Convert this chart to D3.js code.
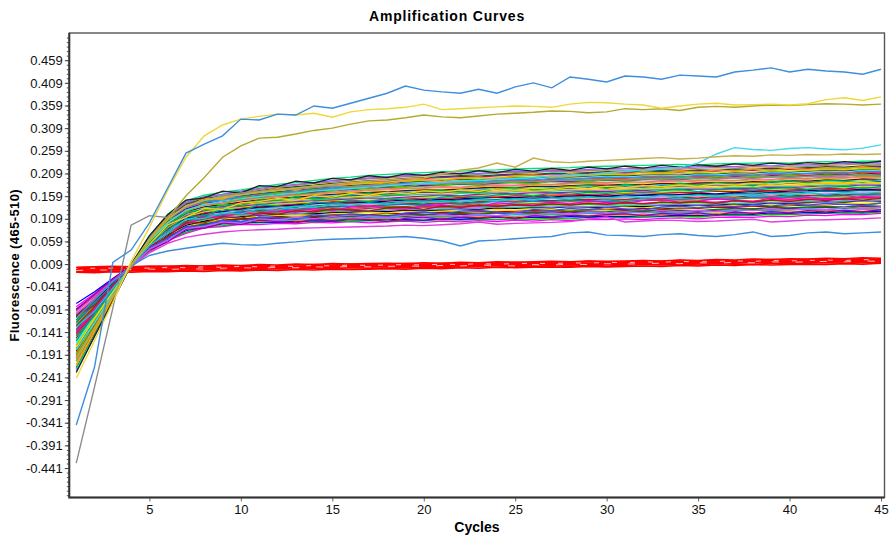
<!DOCTYPE html>
<html><head><meta charset="utf-8">
<script src="https://cdn.jsdelivr.net/npm/d3@7"></script>
<style>
html,body{margin:0;padding:0;background:#fff;}
svg{display:block;}
text{font-family:"Liberation Sans",Arial,sans-serif;}
</style></head><body>
<svg id="chart" width="894" height="536"></svg>
<script>
// ---------------- DATA ----------------
const cycles = [1,2,3,4,5,6,7,8,9,10,11,12,13,14,15,16,17,18,19,20,21,22,23,24,25,26,27,28,29,30,31,32,33,34,35,36,37,38,39,40,41,42,43,44,45];
const xTickValues = [5,10,15,20,25,30,35,40,45];
const yTickLabels = ["-0.441","-0.391","-0.341","-0.291","-0.241","-0.191","-0.141","-0.091","-0.041","0.009","0.059","0.109","0.159","0.209","0.259","0.309","0.359","0.409","0.459"];

// fluorescence values x1000, one entry per cycle (groups of 10 separated by |)
const redCurves = [
"1 2 2 1 3 4 3 5 4 5 | 6 5 7 8 7 9 8 9 10 9 | 11 10 12 11 13 12 14 12 15 13 | 14 16 15 17 16 18 16 17 19 18 | 19 20 19 21 20",
"-3 -1 -2 0 -1 1 0 2 1 3 | 2 4 3 5 4 6 5 5 7 6 | 8 7 8 9 8 10 9 11 10 12 | 11 13 12 12 14 13 15 14 15 16 | 15 17 16 18 17",
"-5 -4 -4 -3 -2 -3 -1 -2 0 1 | 0 2 1 3 2 4 3 4 5 4 | 6 5 7 6 5 8 7 9 8 10 | 9 10 11 10 12 11 13 12 14 13 | 14 15 14 16 15",
"-8 -7 -7 -6 -6 -4 -5 -3 -4 -2 | -3 -1 -2 0 -1 1 0 0 2 1 | 3 2 4 2 5 3 6 4 7 5 | 6 8 7 9 7 10 9 8 11 10 | 11 12 11 13 12",
"-9 -10 -8 -9 -7 -8 -6 -7 -5 -6 | -4 -5 -3 -4 -2 -3 -2 -1 -2 0 | -1 1 0 2 1 2 3 2 4 3 | 4 5 4 6 5 7 6 8 7 8 | 9 8 10 9 11",
"2 3 4 3 5 4 6 5 7 6 | 8 7 9 8 10 9 10 11 10 12 | 11 13 12 14 13 14 15 14 16 15 | 16 17 16 18 17 19 18 20 19 21 | 20 22 21 23 22",
"-4 -5 -3 -4 -2 -3 -1 -2 0 -1 | 1 0 2 1 3 2 4 3 4 5 | 4 6 5 8 6 7 8 7 10 8 | 9 10 9 11 10 12 11 13 12 13 | 14 13 15 14 16",
"-1 0 0 1 0 2 1 3 2 4 | 3 5 4 6 5 7 6 7 8 7 | 9 8 10 9 10 11 10 12 11 13 | 12 14 13 15 14 15 16 15 17 16 | 17 18 17 19 18"
];

const bandColors = ["#ff00ff","#00c000","#0000ff","#ff8000","#00c0c0","#800080","#008000","#c00000","#e8e800","#000000",
"#8080ff","#00ff00","#ff0080","#808000","#0080ff","#804000","#ff80ff","#008080","#000080","#ff0000",
"#80ff00","#c000c0","#40c080","#ffc000","#4040c0","#00ffff","#800000","#c0c000","#ff60a0","#20a020",
"#6000c0","#ff4000","#00a0ff","#404040","#a0e000","#e000a0","#006040","#c08040","#9060ff","#00e080",
"#ff00c0","#00b050","#3050ff","#ff9900","#009999","#a000a0","#60c000","#a02020","#ffd000","#202020","#00d0d0","#c060ff"];

const bandCurves = [
"-85 -56 -24 4 36 61 77 89 92 97 | 96 99 98 101 100 103 100 102 104 101 | 104 102 105 103 106 104 107 105 108 107 | 109 107 110 111 109 112 113 112 115 114 | 117 116 119 118 121",
"-95 -60 -27 3 37 63 79 91 94 99 | 100 101 103 102 104 103 105 104 106 105 | 107 106 108 107 109 108 110 109 112 111 | 113 112 114 115 113 116 117 116 119 118 | 120 121 122 121 124",
"-78 -52 -23 5 38 64 83 92 98 100 | 102 101 104 105 104 107 106 108 107 106 | 109 108 110 112 111 113 112 114 113 115 | 114 116 115 117 116 118 120 119 122 121 | 123 122 125 124 126",
"-100 -66 -30 2 38 66 85 93 100 102 | 104 106 105 107 108 107 110 109 112 111 | 112 114 113 115 114 116 115 117 116 118 | 117 119 118 120 119 121 123 122 125 124 | 126 128 127 130 129",
"-108 -70 -33 2 40 67 86 96 101 103 | 106 105 108 109 111 110 112 111 114 113 | 115 114 117 116 118 117 119 118 121 120 | 121 123 122 124 123 125 126 128 127 129 | 130 129 132 131 133",
"-92 -62 -28 5 41 69 88 97 102 107 | 108 110 109 112 113 115 114 116 115 117 | 119 118 120 122 121 120 123 122 124 121 | 124 126 125 127 126 128 129 131 130 132 | 133 134 133 136 135",
"-115 -74 -35 3 41 70 90 98 105 108 | 110 112 111 114 115 114 117 116 119 118 | 120 121 119 123 122 124 123 126 124 125 | 127 126 129 128 127 130 132 131 134 133 | 135 136 135 138 137",
"-104 -68 -31 5 42 71 90 102 107 109 | 112 114 116 115 118 119 118 121 120 122 | 124 123 125 124 126 127 126 129 128 130 | 129 132 131 133 132 135 134 137 136 138 | 139 140 142 141 143",
"-122 -79 -37 3 43 73 93 101 109 112 | 115 117 116 119 121 120 123 122 125 124 | 126 128 127 129 128 131 130 129 132 131 | 133 135 134 136 135 137 139 138 141 140 | 142 141 144 143 145",
"-108 -71 -33 5 44 74 95 104 111 114 | 117 119 121 120 123 124 126 125 128 127 | 129 131 130 133 132 134 133 136 135 134 | 137 136 139 138 140 139 142 141 144 143 | 145 147 146 149 148",
"-130 -85 -40 3 45 76 97 107 111 116 | 118 121 120 123 125 127 126 128 130 129 | 131 130 133 135 134 136 135 137 136 138 | 137 140 139 141 140 143 142 145 144 146 | 147 146 149 148 150",
"-118 -78 -36 5 46 77 99 107 115 118 | 121 123 125 124 127 129 128 131 132 134 | 133 135 137 136 138 137 140 139 141 140 | 142 141 144 143 145 144 147 146 149 148 | 150 152 151 154 153",
"-135 -88 -41 4 47 78 100 109 116 120 | 122 125 124 127 130 129 132 134 133 136 | 135 137 139 138 140 139 142 141 143 142 | 144 143 146 145 147 146 149 148 151 150 | 152 154 153 156 155",
"-125 -83 -39 6 48 80 102 111 118 122 | 125 127 129 131 133 132 135 137 136 139 | 138 140 142 141 144 143 145 147 146 148 | 147 150 149 151 150 153 152 155 154 156 | 155 158 157 160 159",
"-142 -93 -44 4 48 81 103 114 118 124 | 127 129 131 133 135 137 136 139 141 140 | 143 142 145 147 146 148 147 150 149 148 | 151 150 153 152 154 155 154 157 156 158 | 159 161 160 163 162",
"-128 -85 -40 6 49 83 104 116 122 126 | 129 131 134 133 137 139 138 141 143 142 | 145 144 147 149 148 150 149 152 151 153 | 152 155 154 156 155 158 157 160 159 161 | 160 163 162 165 164",
"-148 -97 -46 4 50 84 107 118 122 127 | 131 134 133 136 139 141 140 143 145 147 | 146 148 150 149 152 151 153 155 154 156 | 155 157 156 159 158 160 161 163 162 164 | 163 166 165 168 167",
"-137 -91 -43 6 51 86 109 118 126 130 | 133 136 138 137 141 143 145 144 147 149 | 148 151 153 152 155 154 156 158 157 159 | 158 161 160 162 163 162 165 164 167 166 | 168 170 169 172 171",
"-155 -102 -48 4 52 87 111 121 125 131 | 135 137 140 142 144 146 145 148 150 152 | 151 153 155 157 156 158 157 160 161 159 | 162 161 164 163 165 164 167 169 168 170 | 171 173 172 174 173",
"-145 -96 -46 6 53 89 113 122 130 133 | 137 140 142 145 147 146 149 151 153 155 | 154 156 158 157 160 159 162 161 164 163 | 165 167 166 168 167 170 169 172 171 173 | 174 176 175 178 177",
"-162 -107 -51 5 54 90 114 125 129 135 | 139 141 144 146 149 151 150 153 155 157 | 156 159 161 160 163 162 164 166 165 167 | 166 169 168 170 169 172 173 175 174 176 | 177 179 178 180 179",
"-150 -100 -48 7 55 92 116 127 133 137 | 141 144 147 149 151 153 155 154 157 159 | 161 160 163 165 164 167 166 168 170 169 | 172 171 174 173 175 174 177 176 179 178 | 180 182 181 184 183",
"-170 -112 -54 5 55 93 118 129 133 139 | 143 146 149 151 153 155 157 159 161 163 | 162 165 167 166 169 168 170 172 171 173 | 172 175 174 176 177 176 179 178 181 180 | 182 184 183 186 185",
"-157 -104 -50 7 56 95 120 131 137 141 | 145 148 151 154 156 158 160 162 164 166 | 165 168 170 169 172 171 173 175 174 176 | 175 178 177 179 180 179 182 181 184 183 | 185 187 186 189 188",
"-176 -116 -55 5 57 96 121 132 136 143 | 147 150 153 156 158 160 162 164 166 168 | 167 170 172 174 173 176 175 177 179 178 | 180 179 182 181 183 184 183 186 185 188 | 187 190 189 192 191",
"-164 -109 -52 7 58 98 123 134 139 145 | 149 152 155 158 161 163 165 167 169 171 | 170 173 175 177 176 179 178 180 182 181 | 183 182 185 184 186 187 186 189 188 191 | 190 193 192 195 194",
"-183 -121 -58 5 59 99 125 136 140 146 | 151 154 157 160 163 165 167 169 171 173 | 172 175 177 179 178 181 180 182 184 183 | 185 184 187 186 188 189 188 191 190 193 | 192 195 194 197 196",
"-170 -114 -54 7 60 100 127 138 144 149 | 153 157 160 163 166 168 171 173 175 176 | 178 177 180 182 181 184 183 186 188 187 | 189 188 191 190 192 193 192 195 194 197 | 196 199 198 201 200",
"-190 -126 -60 6 61 102 128 139 144 150 | 155 158 162 165 168 170 173 175 177 178 | 180 179 182 184 183 186 185 188 190 189 | 191 190 193 192 194 195 194 197 196 199 | 198 201 200 203 202",
"-178 -119 -57 8 62 103 130 142 148 152 | 157 161 164 167 171 173 176 178 180 181 | 183 185 184 187 189 188 191 190 192 194 | 193 195 196 195 198 197 200 199 202 201 | 203 205 204 207 206",
"-198 -131 -62 6 62 105 131 143 148 154 | 159 163 166 169 173 175 178 180 182 183 | 185 187 186 189 191 190 193 192 194 196 | 195 197 198 197 200 199 202 201 204 203 | 205 207 206 209 208",
"-186 -124 -59 8 63 106 134 145 152 156 | 161 165 168 172 175 178 180 183 185 186 | 188 190 189 192 194 193 196 195 197 199 | 198 200 201 200 203 202 205 204 207 206 | 208 210 209 212 211",
"-205 -135 -65 6 64 107 135 147 151 158 | 163 167 170 174 177 180 182 185 187 188 | 190 192 191 194 196 195 198 197 199 201 | 200 202 203 202 205 204 207 206 209 208 | 210 212 211 214 213",
"-192 -128 -61 8 65 109 137 149 155 160 | 165 169 173 176 180 183 185 188 190 192 | 194 196 195 198 200 199 202 201 203 205 | 204 206 207 206 209 208 211 210 213 212 | 214 216 215 218 217",
"-212 -140 -67 6 66 110 138 150 155 162 | 167 171 175 178 182 185 187 190 192 194 | 196 198 197 200 202 201 204 203 205 207 | 206 208 209 208 211 210 213 212 215 214 | 216 218 217 220 219",
"-199 -133 -63 8 67 112 141 152 159 164 | 169 174 178 181 185 188 191 193 196 198 | 200 202 201 204 206 205 208 207 209 211 | 210 212 213 212 215 214 217 216 219 218 | 220 222 221 224 223",
"-220 -146 -69 7 68 113 142 154 159 165 | 171 176 180 183 187 190 193 195 198 200 | 202 204 203 206 208 207 210 209 211 213 | 212 214 215 214 217 216 219 218 221 220 | 222 224 223 226 225",
"-205 -137 -66 9 69 115 144 156 163 168 | 174 179 183 187 190 194 197 199 202 204 | 206 208 207 210 212 211 214 213 215 217 | 216 218 219 218 221 222 221 224 223 226 | 225 227 228 230 229",
"-226 -151 -72 7 70 117 146 158 163 170 | 176 181 185 189 193 196 199 202 204 206 | 208 210 209 212 214 213 216 215 218 220 | 219 221 222 221 224 225 224 227 226 229 | 228 230 231 233 232",
"-222 -149 -71 9 71 119 149 161 168 173 | 179 185 189 194 198 201 205 207 209 211 | 213 214 216 217 219 220 221 222 224 225 | 226 227 228 229 228 230 231 232 233 232 | 234 235 234 236 237",
"-140 -90 -42 5 46 80 98 112 114 122 | 119 128 126 131 127 135 137 132 130 138 | 140 134 136 144 141 139 146 142 148 145 | 143 149 151 146 148 153 150 147 155 152 | 156 151 154 158 157",
"-150 -105 -50 6 58 92 124 128 141 138 | 151 149 158 153 155 162 166 160 163 170 | 172 168 166 176 178 173 175 180 183 177 | 185 181 179 187 184 189 186 182 191 193 | 188 194 192 190 196",
"-120 -78 -36 3 44 66 92 94 106 102 | 113 111 108 118 115 120 117 113 122 124 | 119 126 128 123 121 130 127 132 129 134 | 131 128 135 137 133 138 136 140 137 142 | 139 143 141 138 144",
"-215 -140 -68 6 64 114 134 154 152 166 | 168 176 172 182 180 186 190 185 194 196 | 192 199 201 197 204 206 200 209 205 211 | 207 213 210 215 212 217 214 219 216 221 | 218 222 220 224 219",
"-160 -100 -47 5 55 84 114 116 130 126 | 140 137 134 146 143 150 147 154 151 149 | 157 160 156 162 164 159 166 163 168 165 | 170 167 171 174 169 173 175 172 176 178 | 174 178 181 176 180",
"-90 -58 -24 4 40 58 86 88 100 96 | 106 103 100 108 105 109 107 103 110 112 | 108 113 111 114 109 116 113 117 115 118 | 120 116 121 119 122 117 124 121 125 122 | 127 124 128 125 129",
"-190 -122 -58 7 58 106 124 143 140 155 | 158 166 163 173 170 178 175 182 179 186 | 183 188 185 191 189 186 193 195 190 197 | 194 198 196 200 197 202 199 203 201 205 | 202 206 204 208 204",
"-105 -82 -38 5 48 70 100 100 114 110 | 122 119 127 124 131 128 126 133 135 130 | 137 134 139 136 140 138 142 139 143 141 | 145 142 146 144 147 143 149 146 150 147 | 152 149 153 150 154",
"-175 -110 -52 6 52 96 112 132 130 144 | 147 154 150 160 157 165 161 168 164 171 | 168 173 170 175 172 177 174 179 176 181 | 178 182 180 184 181 186 183 187 185 189 | 186 190 188 192 188",
"-230 -150 -72 8 72 118 150 155 170 166 | 182 180 192 188 198 195 204 200 208 205 | 212 208 215 211 218 214 220 216 223 219 | 225 221 227 223 228 225 230 227 232 229 | 233 230 235 232 236",
"-130 -95 -44 4 50 78 108 110 122 120 | 131 128 137 134 141 138 144 141 147 144 | 149 146 151 148 153 150 155 152 157 154 | 159 155 160 157 162 158 163 160 165 161 | 166 163 167 164 168",
"-100 -68 -30 3 42 62 88 92 102 99 | 109 106 112 109 114 111 115 112 117 114 | 118 115 119 116 121 118 122 119 124 121 | 125 122 127 124 128 125 130 127 131 128 | 132 129 134 131 135"
];

// distinct outlier curves
const blueHigh   = "-346 -218 13 40 100 177 254 274 292 329 | 327 340 338 358 353 364 375 386 402 393 | 389 386 395 386 400 409 398 422 417 411 | 424 422 417 426 424 422 433 437 442 433 | 439 435 433 428 439";
const yellowHigh = "-243 -160 -75 15 90 172 245 292 316 329 | 335 340 338 342 333 345 350 352 355 362 | 350 352 354 356 358 357 355 362 366 365 | 362 360 353 358 362 364 360 361 362 360 | 363 372 376 370 378";
const oliveHigh  = "-195 -130 -60 5 60 110 160 200 245 270 | 287 289 296 304 309 318 325 327 332 338 | 334 332 336 340 342 344 347 346 343 345 | 352 350 352 348 355 357 355 358 360 359 | 361 363 362 360 362";
const grayHump   = "-430 -262 -88 95 116 112 135 150 160 166 | 170 174 176 178 181 180 183 185 184 187 | 186 189 188 190 192 191 193 195 194 196 | 195 197 198 197 199 198 200 199 202 201 | 203 202 204 205 204";
const cyanRise   = "-180 -120 -57 7 60 100 128 140 148 153 | 158 162 166 170 173 176 179 182 185 187 | 189 192 194 196 198 200 203 205 207 210 | 214 216 219 222 232 252 266 262 260 264 | 266 263 261 265 272";
const oliveBand  = "-200 -133 -63 7 64 108 137 150 157 162 | 168 172 177 181 185 189 192 194 197 199 | 208 216 221 232 223 243 235 233 236 238 | 240 242 244 241 243 246 248 247 250 249 | 251 250 252 251 252";
const magentaLow = "-95 -62 -28 4 34 55 68 75 80 83 | 85 86 88 89 90 91 92 93 95 94 | 96 98 102 97 99 100 101 103 108 113 | 102 104 106 105 103 104 106 108 102 104 | 106 107 108 109 111";
const blueLow    = "-110 -70 -30 5 28 38 44 50 55 52 | 51 55 58 62 64 65 66 68 70 66 | 60 49 60 62 65 68 70 78 80 73 | 72 70 74 76 72 70 74 80 70 72 | 78 80 76 78 80";

const outliers = [
  {values: grayHump,   color: "#8c8c8c"},
  {values: magentaLow, color: "#e040e0"},
  {values: blueLow,    color: "#3d8ede"},
  {values: cyanRise,   color: "#40d8ec"},
  {values: oliveBand,  color: "#c4b048"},
  {values: oliveHigh,  color: "#b4aa30"},
  {values: yellowHigh, color: "#f0d838"},
  {values: blueHigh,   color: "#3d8ede"}
];

// ---------------- CHART ----------------
const W = 894, H = 536;
const frame = {left: 69.3, right: 884.5, top: 33, bottom: 497.5};
const x = d3.scaleLinear().domain([0.62, 45.19]).range([frame.left, frame.right]);
const y = d3.scaleLinear().domain([-0.506, 0.519]).range([frame.bottom, frame.top]);

const svg = d3.select("#chart");
svg.append("rect").attr("width", W).attr("height", H).attr("fill", "#fff");

const parse = s => s.split(/[\s|]+/).filter(t => t.length).map(t => +t / 1000).slice(0, cycles.length);
const line = d3.line().defined(d => d != null && !isNaN(d)).x((d, i) => x(cycles[i])).y(d => y(d));

svg.append("defs").append("clipPath").attr("id", "clip")
  .append("rect").attr("x", frame.left).attr("y", frame.top)
  .attr("width", frame.right - frame.left).attr("height", frame.bottom - frame.top);

const plot = svg.append("g").attr("clip-path", "url(#clip)");

const redData = redCurves.map(parse);
plot.selectAll("path.red").data(redData).join("path")
  .attr("class", "red").attr("d", line).attr("fill", "none")
  .attr("stroke", "#ff0000").attr("stroke-width", 1.6);
// light highlight dashes inside the red band (as in the instrument's rendering)
plot.selectAll("path.redhl").data([redData[2], redData[7]]).join("path")
  .attr("class", "redhl").attr("d", line).attr("fill", "none")
  .attr("stroke", "#ffd6d6").attr("stroke-width", 0.9)
  .attr("stroke-dasharray", (d, i) => i ? "5 13" : "7 17")
  .attr("stroke-dashoffset", (d, i) => i ? 4 : 0);

plot.selectAll("path.band").data(bandCurves.map(parse)).join("path")
  .attr("class", "band").attr("d", line).attr("fill", "none")
  .attr("stroke", (d, i) => bandColors[i % bandColors.length]).attr("stroke-width", 1.3);

plot.selectAll("path.out").data(outliers).join("path")
  .attr("class", "out").attr("d", d => line(parse(d.values))).attr("fill", "none")
  .attr("stroke", d => d.color).attr("stroke-width", 1.4);

// minor y ticks
const yMinor = d3.range(-50, 52).map(k => -0.001 + k * 0.01).filter(v => y(v) <= frame.bottom && y(v) >= frame.top);
svg.append("g").attr("transform", `translate(${frame.left},0)`)
  .call(d3.axisLeft(y).tickValues(yMinor).tickFormat("").tickSize(2.5))
  .call(g => g.select(".domain").remove())
  .call(g => g.selectAll("line").attr("stroke", "#555"));

// major y ticks
const yTickValues = yTickLabels.map(Number);
svg.append("g").attr("transform", `translate(${frame.left},0)`)
  .call(d3.axisLeft(y).tickValues(yTickValues).tickFormat((d, i) => yTickLabels[i]).tickSize(4.5).tickPadding(2))
  .call(g => g.select(".domain").remove())
  .call(g => g.selectAll("line").attr("stroke", "#444"))
  .call(g => g.selectAll("text").attr("font-size", 13).attr("fill", "#111")
    .attr("font-family", "'Liberation Sans', Arial, sans-serif"));

// x ticks
svg.append("g").attr("transform", `translate(0,${frame.bottom})`)
  .call(d3.axisBottom(x).tickValues(xTickValues).tickFormat(d3.format("d")).tickSize(4).tickPadding(3))
  .call(g => g.select(".domain").remove())
  .call(g => g.selectAll("line").attr("stroke", "#666"))
  .call(g => g.selectAll("text").attr("font-size", 13).attr("fill", "#111")
    .attr("font-family", "'Liberation Sans', Arial, sans-serif"));

// frame
svg.append("rect").attr("x", frame.left).attr("y", frame.top)
  .attr("width", frame.right - frame.left).attr("height", frame.bottom - frame.top)
  .attr("fill", "none").attr("stroke", "#555").attr("stroke-width", 1.4);
svg.append("path")
  .attr("d", `M${frame.left},${frame.top}V${frame.bottom}H${frame.right}`)
  .attr("fill", "none").attr("stroke", "#333").attr("stroke-width", 2);

// titles
svg.append("text").attr("x", W / 2).attr("y", 16).attr("text-anchor", "middle")
  .attr("dominant-baseline", "central").attr("font-size", 14).attr("font-weight", "bold")
  .attr("letter-spacing", 0.8).attr("fill", "#000").text("Amplification Curves");

svg.append("text").attr("x", (frame.left + frame.right) / 2).attr("y", 527).attr("text-anchor", "middle")
  .attr("dominant-baseline", "central").attr("font-size", 14).attr("font-weight", "bold")
  .attr("fill", "#000").text("Cycles");

svg.append("text").attr("transform", `translate(14,${(frame.top + frame.bottom) / 2}) rotate(-90)`)
  .attr("text-anchor", "middle").attr("dominant-baseline", "central")
  .attr("font-size", 13).attr("font-weight", "bold").attr("letter-spacing", 0.4)
  .attr("fill", "#000").text("Fluorescence (465-510)");
</script>
</body></html>
